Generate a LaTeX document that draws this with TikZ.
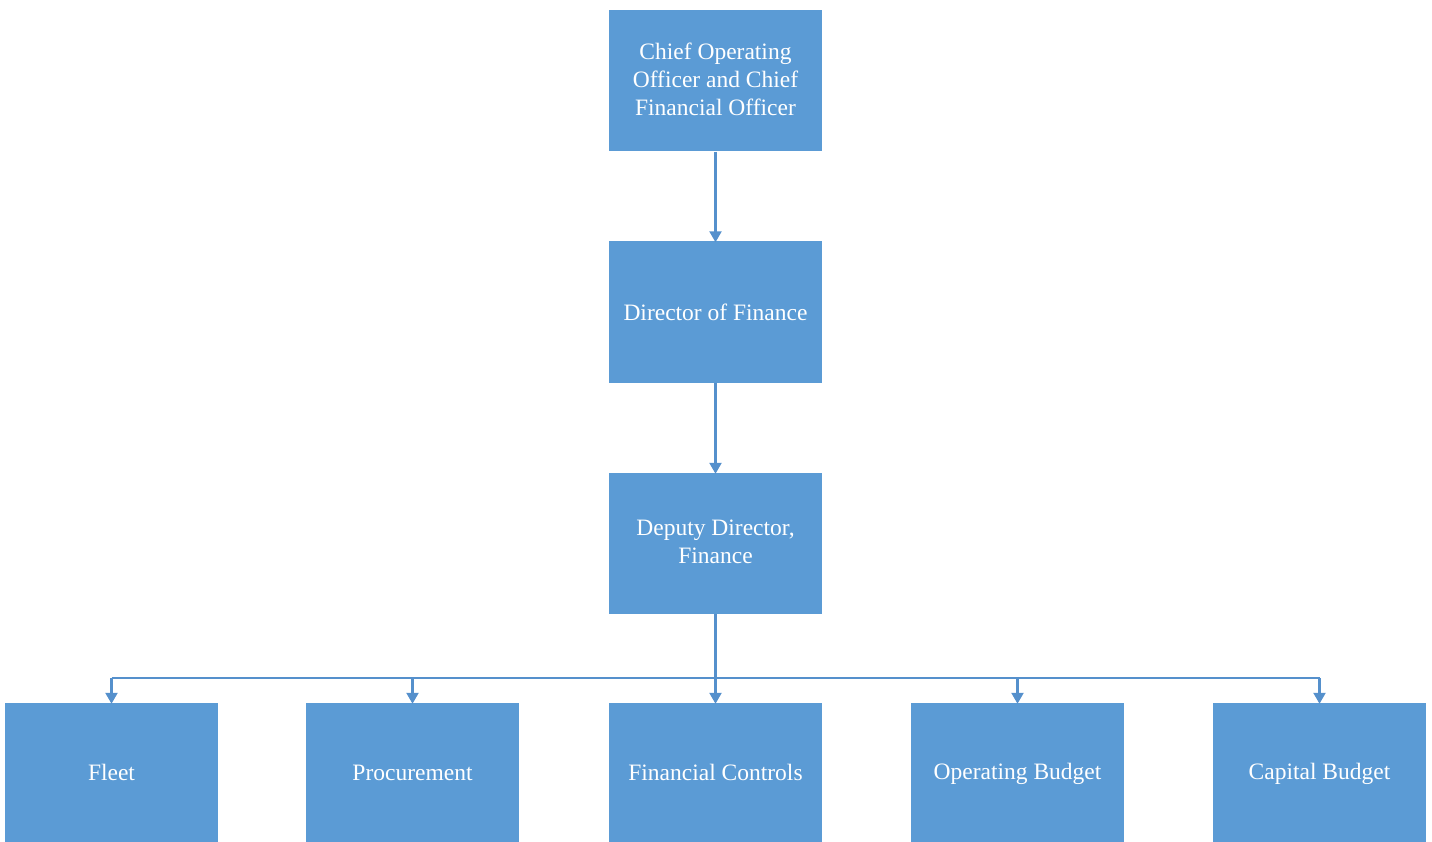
\documentclass[tikz,border=0pt]{standalone}
\usepackage{fontspec}
\setmainfont{Liberation Serif}
\newfontfamily\tnr{Liberation Serif}
\usetikzlibrary{arrows.meta}
\definecolor{boxblue}{HTML}{5B9BD5}
\definecolor{lineblue}{HTML}{5590CC}
\tikzset{
  orgbox/.style={fill=boxblue, draw=none, minimum width=213pt, minimum height=141pt,
    text=white, align=center, font=\tnr\fontsize{23.5}{28}\selectfont, inner sep=0pt,
    execute at begin node={\rule{0pt}{20pt}}, execute at end node={\rule[-4pt]{0pt}{0pt}}},
  conn/.style={draw=lineblue, line width=2.2pt, -{Triangle[width=12pt,length=11pt]}}
}
\begin{document}
\begin{tikzpicture}[x=1pt,y=-1pt]
\useasboundingbox (0,0) rectangle (1432,842);
\node[orgbox] (coo) at (715.5,81) {Chief Operating\\Officer and Chief\\Financial Officer};
\node[orgbox] (dir) at (715.5,312) {Director of Finance};
\node[orgbox] (dep) at (715.5,543.5) {Deputy Director,\\Finance};
\node[orgbox, minimum height=139pt] (fleet) at (111.5,772.5) {Fleet};
\node[orgbox, minimum height=139pt] (proc) at (412.5,772.5) {Procurement};
\node[orgbox, minimum height=139pt] (fin) at (715.5,772.5) {Financial Controls};
\node[orgbox, minimum height=139pt] (opb) at (1017.5,772.5) {Operating Budget};
\node[orgbox, minimum height=139pt] (cap) at (1319.5,772.5) {Capital Budget};
\draw[conn] (coo.south) -- ([yshift=-1pt]dir.north);
\draw[conn] (dir.south) -- ([yshift=-1pt]dep.north);
\coordinate (bus) at (715.5,678);
\draw[conn] (dep.south) -- ([yshift=-1pt]fin.north);
\draw[draw=lineblue, line width=2.2pt] (fleet.north |- bus) -- (cap.north |- bus);
\draw[conn] (fleet.north |- bus) -- ([yshift=-1pt]fleet.north);
\draw[conn] (proc.north |- bus) -- ([yshift=-1pt]proc.north);
\draw[conn] (opb.north |- bus) -- ([yshift=-1pt]opb.north);
\draw[conn] (cap.north |- bus) -- ([yshift=-1pt]cap.north);
\end{tikzpicture}
\end{document}
